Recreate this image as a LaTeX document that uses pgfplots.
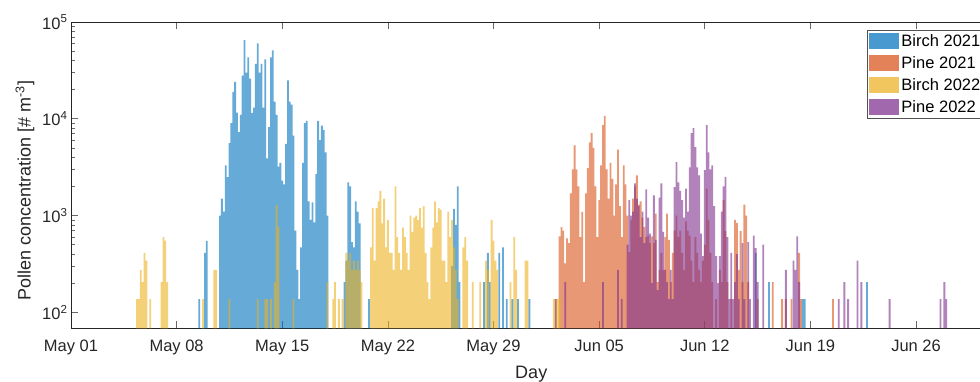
\documentclass[border=0pt]{standalone}
\usepackage{fontspec}
\setmainfont{Liberation Sans}
\usepackage{pgfplots}
\pgfplotsset{compat=1.18}
\definecolor{b21}{rgb}{0,0.447,0.741}
\definecolor{p21}{rgb}{0.85,0.325,0.098}
\definecolor{b22}{rgb}{0.929,0.694,0.125}
\definecolor{p22}{rgb}{0.494,0.184,0.556}
\definecolor{axc}{rgb}{0.15,0.15,0.15}
\pgfplotsset{
  mybar/.style={ybar, bar width=0.12, bar shift=0pt, draw=none, fill=#1, fill opacity=0.6,
    legend image code/.code={\fill[##1, fill opacity=0.72] (0pt,-8pt) rectangle (30pt,8pt);}},
}
\begin{document}
\begin{tikzpicture}
\useasboundingbox (0,0) rectangle (980pt,381pt);
\begin{axis}[
  at={(71pt,52.7pt)}, anchor=south west, scale only axis,
  width=920.5pt, height=306.3pt,
  xmin=0, xmax=61, ymode=log, ymin=68.4, ymax=100000,
  log origin=infty,
  xtick={0,7,14,21,28,35,42,49,56},
  xticklabels={May 01,May 08,May 15,May 22,May 29,Jun 05,Jun 12,Jun 19,Jun 26},
  ytick={100,1000,10000,100000},
  yticklabels={10\textsuperscript{2},10\textsuperscript{3},10\textsuperscript{4},10\textsuperscript{5}},
  tick align=inside, major tick length=7pt, minor tick length=4pt,
  axis line style={color=axc, line width=0.6pt},
  every tick/.style={color=axc!70, line width=0.6pt},
  ticklabel style={font=\fontsize{16.5}{19}\selectfont, color=axc},
  xticklabel style={yshift=-8pt},
  label style={font=\fontsize{18}{21}\selectfont, color=axc},
  xlabel={Day},
  xlabel style={yshift=-4pt},
  ylabel={Pollen concentration [\# m\textsuperscript{-3}]},
  ylabel style={at={(ticklabel cs:0.45)}, yshift=1pt},
  legend style={at={(0.865,0.974)}, anchor=north west, draw=axc!80, line width=0.5pt,
    font=\fontsize{16.5}{19}\selectfont, fill=white, inner xsep=2pt, inner ysep=2.5pt, row sep=4.5pt},
  legend cell align=left,
]
% Birch 2021
\addplot[mybar=b21] coordinates {
(8.5,137) (8.875,411) (9.0,548)
(9.875,1000) (10.0,1500) (10.125,1100) (10.25,3300) (10.375,2500) (10.5,5600) (10.625,9000) (10.75,19000)
(10.875,24000) (11.0,11600) (11.125,7300) (11.25,11000) (11.375,28000) (11.5,65000) (11.625,30000) (11.75,43000)
(11.875,26000) (12.0,11500) (12.125,13000) (12.25,37000) (12.375,60000) (12.5,30000) (12.625,37000) (12.75,13000)
(12.875,41000) (13.0,3900) (13.125,8200) (13.25,43000) (13.375,51000) (13.5,15000) (13.625,11000) (13.75,3200)
(13.875,3500) (14.0,2300) (14.125,2100) (14.25,5500) (14.375,25000) (14.5,15000) (14.625,14000) (14.75,6700)
(14.875,700) (15.0,274) (15.125,137) (15.25,470) (15.375,3500) (15.5,9000) (15.625,9500) (15.75,1400)
(15.875,900) (16.0,1370) (16.125,850) (16.25,2700) (16.375,9500) (16.5,6000) (16.625,8500) (16.75,7700)
(16.875,4500) (17.0,1000)
(18.125,205) (18.25,342) (18.375,2200) (18.5,2000) (18.625,530) (18.75,470) (18.875,1400) (19.0,1100) (19.125,830) (19.75,137)
(25.25,300) (25.375,1170) (25.5,800) (25.625,2000) (25.75,205)
(27.375,205) (27.625,411) (27.75,205) (28.375,411) (28.625,470) (28.875,137) (29.25,137) (29.625,137) (30.375,137)
(45.375,411) (46.25,205) (48.5,137) (48.625,137) (52.75,205)
};
\addlegendentry{Birch 2021}
% Pine 2021
\addplot[mybar=p21] coordinates {
(32.375,610) (32.5,760) (32.625,700) (32.75,320) (32.875,580) (33.0,520) (33.125,1700) (33.25,3000)
(33.375,5300) (33.5,3000) (33.625,2000) (33.75,600) (33.875,1090) (34.0,205) (34.125,1700) (34.25,3100)
(34.375,5700) (34.5,7100) (34.625,5000) (34.75,2000) (34.875,600) (35.0,1440) (35.125,3300) (35.25,8600)
(35.375,10700) (35.5,3000) (35.625,1500) (35.75,3500) (35.875,2400) (36.0,1000) (36.125,2100) (36.25,4800)
(36.375,1250) (36.5,600) (36.625,3300) (36.75,2100) (36.875,1000) (37.0,420) (37.125,900) (37.25,1500)
(37.375,2000) (37.5,2600) (37.625,1300) (37.75,1400) (37.875,950) (38.0,760) (38.125,600) (38.25,620)
(38.375,520) (38.5,610) (38.625,520) (38.75,1050) (38.875,205) (39.0,274) (39.125,411) (39.25,274)
(39.375,600) (39.5,1050) (39.625,560) (39.75,205) (39.875,411) (40.0,700) (40.125,1000) (40.25,600)
(40.375,700) (40.5,411) (40.625,274) (40.75,870) (40.875,700) (41.0,620) (41.125,340) (41.25,205)
(41.375,600) (41.5,411) (41.625,274) (41.75,205) (41.875,342) (42.0,500) (42.125,1900) (42.25,900)
(42.375,411) (42.5,205) (42.75,137) (43.0,274) (43.125,205) (43.25,1440) (43.375,690) (43.5,205)
(43.75,137) (44.0,900) (44.125,840) (44.25,274) (44.375,690) (44.5,205) (44.625,1300) (44.75,1000)
(44.875,205) (45.5,137) (46.5,205) (47.125,137) (47.375,137) (47.75,137) (48.25,411) (48.375,137) (50.5,137)
};
\addlegendentry{Pine 2021}
% Birch 2022
\addplot[mybar=b22] coordinates {
(4.375,137) (4.5,137) (4.625,274) (4.75,205) (4.875,411) (5.0,342) (5.25,137)
(6.0,205) (6.125,600) (6.25,550) (6.375,205) (8.75,137) (9.5,274) (9.625,274)
(10.5,137) (12.375,137) (12.875,137) (13.0,137) (13.25,137) (13.5,205) (13.625,1280) (13.75,760) (14.75,137) (17.0,205)
(17.375,137) (17.5,205) (17.75,137) (18.0,137) (18.25,411) (18.375,342) (18.5,411) (18.625,274)
(18.75,342) (18.875,274) (19.0,342) (19.125,274) (19.25,205) (19.875,470) (20.0,1190) (20.125,342)
(20.25,1190) (20.375,1400) (20.5,1800) (20.625,830) (20.75,1500) (20.875,470) (21.0,900) (21.125,411)
(21.25,411) (21.375,274) (21.5,2000) (21.625,600) (21.75,411) (21.875,274) (22.0,750) (22.125,600)
(22.25,411) (22.375,274) (22.5,1000) (22.625,680) (22.75,950) (22.875,1000) (23.0,900) (23.125,1190)
(23.25,750) (23.375,1250) (23.5,411) (23.625,205) (23.75,137) (23.875,470) (24.0,750) (24.125,1400)
(24.25,850) (24.375,1190) (24.5,1150) (24.625,342) (24.75,342) (24.875,205) (25.0,1100) (25.125,600)
(25.25,900) (25.375,470) (25.5,274) (25.625,137) (26.0,470) (26.125,600) (26.25,342) (26.625,205)
(27.125,205) (27.5,342) (27.625,274) (27.875,900) (28.0,550) (28.125,342) (28.25,274)
(29.125,205) (29.375,600) (29.5,274) (30.125,342) (30.25,342)
(32.0,137) (32.125,137) (32.25,137) (32.375,137)
};
\addlegendentry{Birch 2022}
% Pine 2022
\addplot[mybar=p22] coordinates {
(32.125,137) (32.75,205) (35.25,205) (36.25,274) (36.5,137)
(36.875,500) (37.0,1440) (37.125,1000) (37.25,1100) (37.375,2150) (37.5,1500) (37.625,1250) (37.75,600)
(37.875,1100) (38.0,520) (38.125,1870) (38.25,950) (38.375,650) (38.5,200) (38.625,1620) (38.75,560)
(38.875,170) (39.0,1530) (39.125,2150) (39.25,680) (39.375,274) (39.5,205) (39.625,137) (39.75,274)
(39.875,137) (40.0,1970) (40.125,3570) (40.25,2200) (40.375,1800) (40.5,1440) (40.625,950) (40.75,1900)
(40.875,1100) (41.0,3150) (41.125,7100) (41.25,8000) (41.375,5100) (41.5,3150) (41.625,2600) (41.75,650)
(41.875,380) (42.0,2950) (42.125,8600) (42.25,4500) (42.375,3000) (42.5,3300) (42.625,1250) (42.75,380)
(42.875,200) (43.0,380) (43.125,1100) (43.25,2000) (43.375,2500) (43.5,600) (43.625,137) (43.75,411)
(43.875,137) (44.0,205) (44.125,400) (44.25,137) (44.5,520) (44.625,137) (44.875,530) (45.0,137)
(45.25,620) (45.375,460) (45.5,205) (45.875,500) (47.375,274) (47.875,342) (48.0,274) (48.125,610)
(48.25,205) (50.875,137) (51.25,205) (51.5,137) (52.125,342) (52.375,205) (54.25,137)
(57.625,137) (57.875,205) (58.0,137)
};
\addlegendentry{Pine 2022}
\end{axis}
\end{tikzpicture}
\end{document}
